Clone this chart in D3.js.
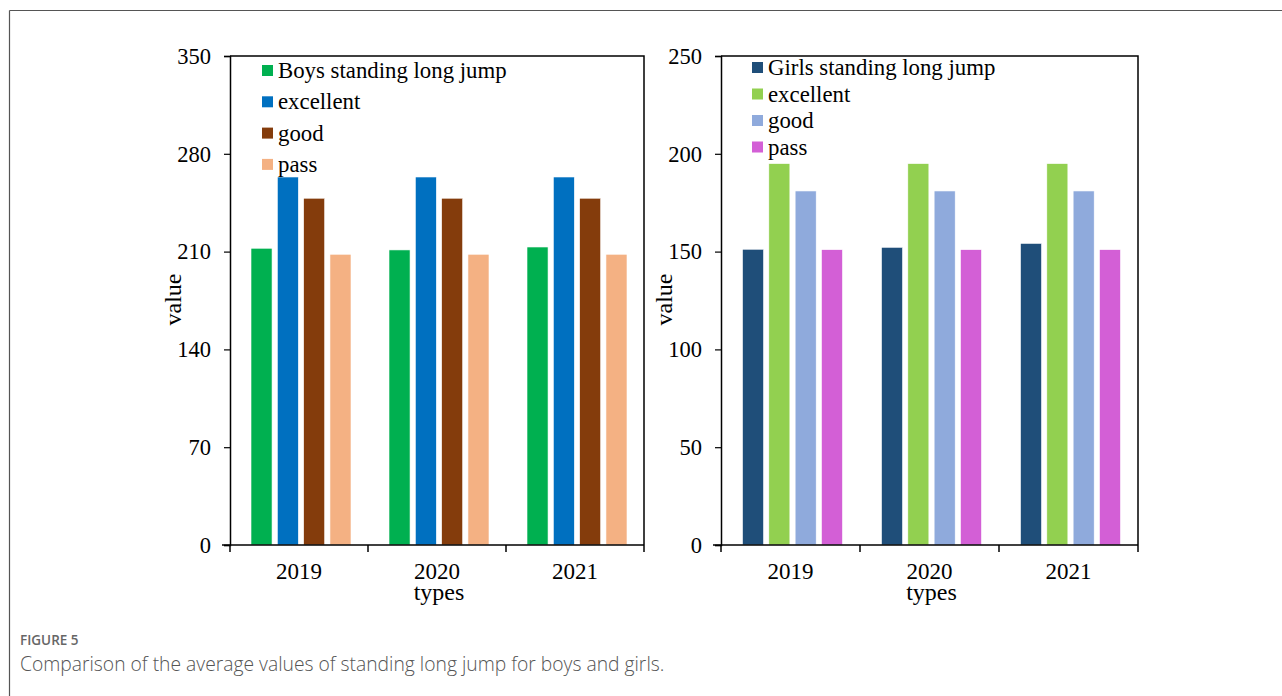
<!DOCTYPE html>
<html>
<head>
<meta charset="utf-8">
<script src="https://cdn.jsdelivr.net/npm/d3@7"></script>
<style>
  html, body { margin: 0; padding: 0; background: #fff; }
  svg { display: block; }
</style>
</head>
<body>
<svg id="fig" width="1282" height="696"></svg>
<script>
// Years on the category axis
const years = ["2019", "2020", "2021"];

// Boys: measured average and grade thresholds (cm)
const boysSeries = ["Boys standing long jump", "excellent", "good", "pass"];
const boysMeasured = [212.4, 211.2, 213.3];
const boysExcellent = [263.4, 263.4, 263.4];
const boysGood = [248.2, 248.2, 248.2];
const boysPass = [208.1, 208.1, 208.1];
const boysTicks = [0, 70, 140, 210, 280, 350];

// Girls: measured average and grade thresholds (cm)
const girlsSeries = ["Girls standing long jump", "excellent", "good", "pass"];
const girlsMeasured = [151.2, 152.2, 154.2];
const girlsExcellent = [195, 195, 195];
const girlsGood = [181, 181, 181];
const girlsPass = [151, 151, 151];
const girlsTicks = [0, 50, 100, 150, 200, 250];

const boysColors = ["#00b050", "#0070c0", "#843c0c", "#f4b183"];
const girlsColors = ["#1f4e79", "#92d050", "#8faadc", "#d35fd6"];

const svg = d3.select("#fig");
const serif = "'Liberation Serif', 'Times New Roman', serif";

// Outer figure frame: top and left rules
svg.append("line").attr("x1", 9.5).attr("x2", 1282).attr("y1", 10.5).attr("y2", 10.5)
  .attr("stroke", "#555").attr("stroke-width", 1.2);
svg.append("line").attr("x1", 9.5).attr("x2", 9.5).attr("y1", 10.5).attr("y2", 696)
  .attr("stroke", "#555").attr("stroke-width", 1.2);

function panel(opts) {
  const { left, right, top, bottom, maxV, ticks, series, colors, values, legendX, legendY, legendStep } = opts;
  const g = svg.append("g");

  const x = d3.scaleBand().domain(years).range([left, right]).padding(0);
  const y = d3.scaleLinear().domain([0, maxV]).range([bottom, top]);
  const inner = d3.scaleBand().domain(series).range([0, 100]).paddingInner(0.2);
  const barOffset = (x.bandwidth() - 100) / 2 + 2;

  // Bars
  series.forEach((s, si) => {
    g.selectAll(null).data(years).enter().append("rect")
      .attr("x", d => x(d) + barOffset + inner(s))
      .attr("y", (d, i) => y(values[si][i]))
      .attr("width", inner.bandwidth())
      .attr("height", (d, i) => y(0) - y(values[si][i]))
      .attr("fill", colors[si])
      .attr("stroke", "#fff").attr("stroke-width", 0.6);
  });

  // Plot frame (top and right edges)
  g.append("path")
    .attr("d", `M${left},${top}H${right}V${bottom}`)
    .attr("fill", "none").attr("stroke", "#000").attr("stroke-width", 1.5);

  // Y axis
  const ya = g.append("g").attr("transform", `translate(${left},0)`)
    .call(d3.axisLeft(y).tickValues(ticks).tickSize(6).tickPadding(13));
  ya.select(".domain").attr("stroke-width", 1.5);
  ya.selectAll(".tick line").attr("stroke-width", 1.2);
  ya.selectAll("text").attr("font-family", serif).attr("font-size", 22.5).attr("fill", "#000");

  // X axis with ticks at band boundaries
  const xa = g.append("g").attr("transform", `translate(0,${bottom})`);
  xa.append("line").attr("x1", left - 8).attr("x2", right).attr("stroke", "#000").attr("stroke-width", 1.5);
  const edges = years.map(d => x(d)).concat([right]);
  xa.selectAll(null).data(edges).enter().append("line")
    .attr("x1", d => d).attr("x2", d => d).attr("y1", 0).attr("y2", 7)
    .attr("stroke", "#000").attr("stroke-width", 1.5);
  xa.selectAll(null).data(years).enter().append("text")
    .attr("x", d => x(d) + x.bandwidth() / 2).attr("y", 34)
    .attr("text-anchor", "middle")
    .attr("font-family", serif).attr("font-size", 23).text(d => d);

  // Axis titles
  g.append("text")
    .attr("x", (left + right) / 2 + 2).attr("y", bottom + 55)
    .attr("text-anchor", "middle").attr("font-family", serif).attr("font-size", 24)
    .text("types");
  g.append("text")
    .attr("transform", `translate(${left - 49},${(top + bottom) / 2 - 1}) rotate(-90)`)
    .attr("text-anchor", "middle").attr("font-family", serif).attr("font-size", 24)
    .text("value");

  // Legend
  series.forEach((s, i) => {
    const cy = legendY + i * legendStep;
    g.append("rect").attr("x", legendX).attr("y", cy - 6).attr("width", 11).attr("height", 11)
      .attr("fill", colors[i]);
    g.append("text").attr("x", legendX + 16).attr("y", cy + 7)
      .attr("font-family", serif).attr("font-size", 22.8).text(s);
  });
}

panel({
  left: 230, right: 644, top: 56, bottom: 545, maxV: 350, ticks: boysTicks,
  series: boysSeries, colors: boysColors,
  values: [boysMeasured, boysExcellent, boysGood, boysPass],
  legendX: 262, legendY: 71, legendStep: 31.3
});

panel({
  left: 721, right: 1138, top: 56, bottom: 545, maxV: 250, ticks: girlsTicks,
  series: girlsSeries, colors: girlsColors,
  values: [girlsMeasured, girlsExcellent, girlsGood, girlsPass],
  legendX: 752, legendY: 68, legendStep: 26.5
});

// Caption
svg.append("text").attr("x", 20).attr("y", 645)
  .attr("font-family", "'Open Sans', 'Noto Sans', sans-serif").attr("font-size", 13.5)
  .attr("font-weight", 600).attr("fill", "#666").text("FIGURE 5");
svg.append("text").attr("x", 20).attr("y", 671)
  .attr("font-family", "'Open Sans', 'Noto Sans', sans-serif").attr("font-size", 19.3)
  .attr("font-weight", 300).attr("fill", "#555")
  .text("Comparison of the average values of standing long jump for boys and girls.");
</script>
</body>
</html>
